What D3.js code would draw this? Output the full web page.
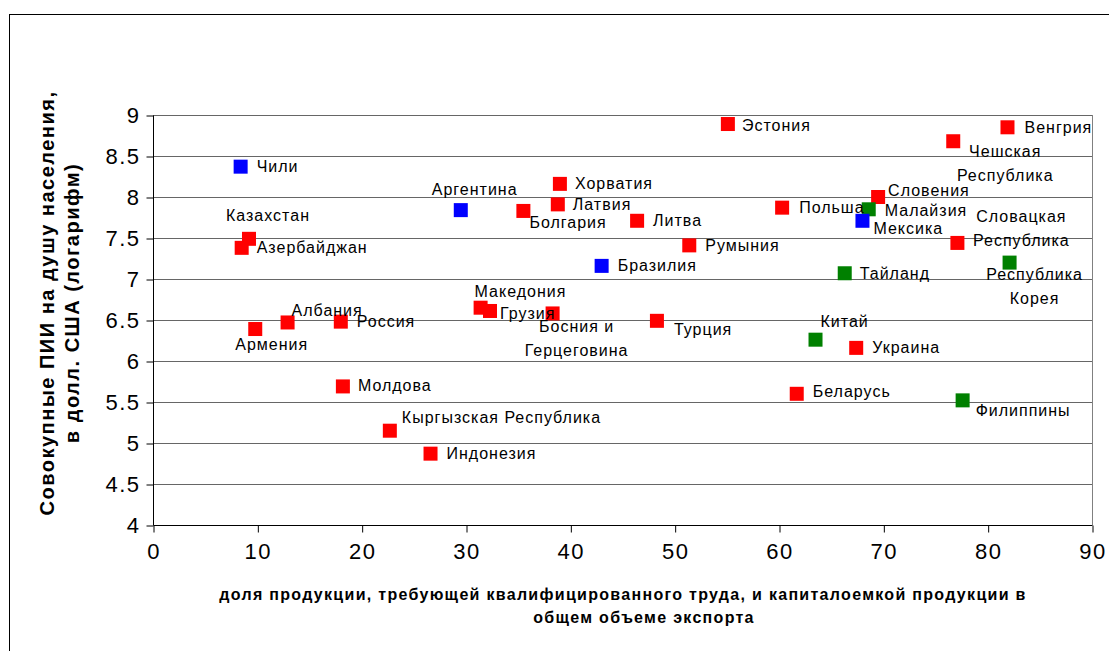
<!DOCTYPE html>
<html>
<head>
<meta charset="utf-8">
<script src="https://cdn.jsdelivr.net/npm/d3@7"></script>
<style>
  body { margin: 0; background: #fff; }
  svg { display: block; font-family: "Liberation Sans", Arial, sans-serif; }
  .label { font-size: 16px; letter-spacing: 1px; fill: #000; }
  .tick text { font-size: 22px; letter-spacing: 1.5px; fill: #000; }
  .axis-title { font-weight: bold; fill: #000; }
</style>
</head>
<body>
<svg width="1109" height="651"></svg>
<script>
  // countries, x = share of skill/capital-intensive exports, y = log FDI per capita
  const countries = ['Чили', 'Аргентина', 'Казахстан', 'Азербайджан', 'Армения', 'Албания', 'Россия',
    'Македония', 'Грузия', 'Босния и Герцеговина', 'Молдова', 'Кыргызская Республика', 'Индонезия',
    'Эстония', 'Венгрия', 'Чешская Республика', 'Хорватия', 'Латвия', 'Болгария', 'Литва', 'Польша',
    'Словения', 'Малайзия', 'Мексика', 'Румыния', 'Словацкая Республика', 'Бразилия', 'Тайланд',
    'Республика Корея', 'Турция', 'Китай', 'Украина', 'Беларусь', 'Филиппины'];
  const xValues = [8.4, 29.5, 9.2, 8.5, 9.8, 12.9, 18.0,
    31.4, 32.3, 38.3, 18.2, 22.7, 26.6,
    55.1, 81.9, 76.7, 39.0, 38.8, 35.5, 46.4, 60.3,
    69.5, 68.6, 68.0, 51.4, 77.1, 43.0, 66.3,
    82.1, 48.3, 63.5, 67.4, 61.7, 77.6];
  const yValues = [8.37, 7.84, 7.49, 7.38, 6.39, 6.47, 6.48,
    6.65, 6.61, 6.58, 5.69, 5.15, 4.87,
    8.89, 8.85, 8.68, 8.16, 7.91, 7.83, 7.71, 7.87,
    8.00, 7.85, 7.71, 7.41, 7.44, 7.16, 7.07,
    7.20, 6.49, 6.26, 6.16, 5.60, 5.52];
  const groups = ['latam', 'latam', 'cis', 'cis', 'cis', 'cis', 'cis',
    'cis', 'cis', 'cis', 'cis', 'cis', 'cis',
    'cis', 'cis', 'cis', 'cis', 'cis', 'cis', 'cis', 'cis',
    'cis', 'asia', 'latam', 'cis', 'cis', 'latam', 'asia',
    'asia', 'cis', 'asia', 'cis', 'cis', 'asia'];
  const xTicks = [0, 10, 20, 30, 40, 50, 60, 70, 80, 90];
  const yTicks = [4, 4.5, 5, 5.5, 6, 6.5, 7, 7.5, 8, 8.5, 9];

  const groupColor = { cis: '#ff0000', latam: '#0000ff', asia: '#008000' };

  // label placement (pixels from the marker), lines split for wrapped labels
  const labelLayout = {
    'Чили': [16, 0], 'Аргентина': [-29, -21], 'Казахстан': [-23, -23], 'Азербайджан': [15, 0],
    'Армения': [-20, 15], 'Албания': [4, -12], 'Россия': [16, 0], 'Македония': [-6, -16],
    'Грузия': [10, 2], 'Босния и Герцеговина': [24, 13, 'Босния и', 'Герцеговина'], 'Молдова': [15, -1],
    'Кыргызская Республика': [12, -13], 'Индонезия': [16, 0], 'Эстония': [14, 1], 'Венгрия': [17, 0],
    'Чешская Республика': [52, 10, 'Чешская', 'Республика'], 'Хорватия': [15, 0], 'Латвия': [15, 0],
    'Болгария': [6, 11], 'Литва': [16, 0], 'Польша': [17, 0], 'Словения': [10, -7], 'Малайзия': [16, 1],
    'Мексика': [11, 8], 'Румыния': [16, 0], 'Словацкая Республика': [64, -27, 'Словацкая', 'Республика'],
    'Бразилия': [16, 0], 'Тайланд': [15, 0], 'Республика Корея': [25, 12, 'Республика', 'Корея'],
    'Турция': [17, 9], 'Китай': [5, -18], 'Украина': [16, 0], 'Беларусь': [16, -2], 'Филиппины': [13, 10]
  };

  const data = countries.map((name, i) => ({ name, x: xValues[i], y: yValues[i], group: groups[i] }));

  const svg = d3.select('svg');
  const plotLeft = 153, plotRight = 1092, plotTop = 115, plotBottom = 525;

  const x = d3.scaleLinear().domain([0, 90]).range([plotLeft, plotRight]);
  const y = d3.scaleLinear().domain([4, 9]).range([plotBottom, plotTop]);

  // outer chart frame
  svg.append('rect')
    .attr('x', 9.5).attr('y', 14.5)
    .attr('width', 1120).attr('height', 660)
    .attr('fill', 'none').attr('stroke', '#000');

  // horizontal gridlines
  svg.append('g').selectAll('line').data(yTicks.filter(d => d > 4))
    .enter().append('line')
    .attr('x1', plotLeft).attr('x2', plotRight)
    .attr('y1', d => Math.round(y(d)) + 0.5).attr('y2', d => Math.round(y(d)) + 0.5)
    .attr('stroke', '#666');

  svg.append('line')
    .attr('x1', plotRight + 0.5).attr('x2', plotRight + 0.5)
    .attr('y1', plotTop).attr('y2', plotBottom)
    .attr('stroke', '#808080');

  const yAxis = svg.append('g')
    .attr('transform', `translate(${plotLeft + 0.5},0.5)`)
    .call(d3.axisLeft(y).tickValues(yTicks).tickSize(7).tickPadding(6).tickFormat(d3.format('')));

  const xAxis = svg.append('g')
    .attr('transform', `translate(0.5,${plotBottom + 0.5})`)
    .call(d3.axisBottom(x).tickValues(xTicks).tickSize(7).tickPadding(11).tickFormat(d3.format('')));

  [yAxis, xAxis].forEach(a => {
    a.select('.domain').attr('stroke', '#000');
    a.selectAll('.tick line').attr('stroke', '#000');
    a.selectAll('.tick text').attr('font-family', null).attr('font-size', null);
  });
  yAxis.select('.domain').attr('d', `M0,${plotTop}V${plotBottom}`);
  xAxis.select('.domain').attr('d', `M${plotLeft},0H${plotRight}`);

  // markers
  const size = 14;
  svg.append('g').selectAll('rect').data(data)
    .enter().append('rect')
    .attr('x', d => x(d.x) - size / 2)
    .attr('y', d => y(d.y) - size / 2)
    .attr('width', size).attr('height', size)
    .attr('fill', d => groupColor[d.group]);

  // labels
  const labels = svg.append('g').selectAll('text').data(data)
    .enter().append('text')
    .attr('class', 'label')
    .attr('x', d => x(d.x) + labelLayout[d.name][0])
    .attr('y', d => y(d.y) + labelLayout[d.name][1])
    .attr('dy', '0.35em')
    .attr('text-anchor', d => labelLayout[d.name].length > 2 ? 'middle' : 'start');

  labels.each(function (d) {
    const lay = labelLayout[d.name];
    const t = d3.select(this);
    if (lay.length > 2) {
      t.append('tspan').attr('x', x(d.x) + lay[0]).text(lay[2]);
      t.append('tspan').attr('x', x(d.x) + lay[0]).attr('dy', 24).text(lay[3]);
    } else {
      t.text(d.name);
    }
  });

  // axis titles
  const yTitle = svg.append('text')
    .attr('class', 'axis-title')
    .attr('font-size', 20)
    .attr('letter-spacing', 1.5)
    .attr('text-anchor', 'middle')
    .attr('transform', 'translate(54,303) rotate(-90)');
  yTitle.append('tspan').attr('x', 0).attr('y', 0).text('Совокупные ПИИ на душу населения,');
  yTitle.append('tspan').attr('x', 0).attr('y', 25).text('в долл. США (логарифм)');

  svg.append('text')
    .attr('class', 'axis-title')
    .attr('font-size', 16)
    .attr('letter-spacing', 1.3)
    .attr('text-anchor', 'middle')
    .attr('x', 623).attr('y', 600)
    .text('доля продукции, требующей квалифицированного труда, и капиталоемкой продукции в');
  svg.append('text')
    .attr('class', 'axis-title')
    .attr('font-size', 16)
    .attr('letter-spacing', 1.3)
    .attr('text-anchor', 'middle')
    .attr('x', 644).attr('y', 623)
    .text('общем объеме экспорта');
</script>
</body>
</html>
